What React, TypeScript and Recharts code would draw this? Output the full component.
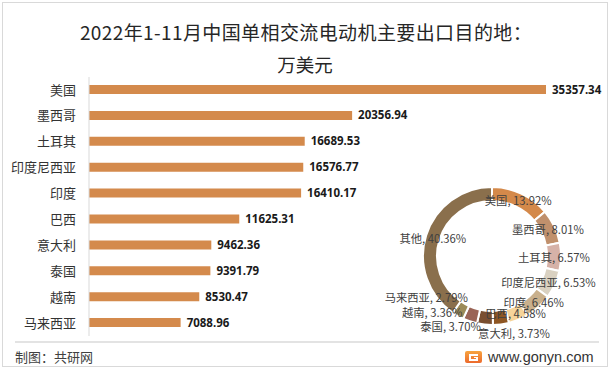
import React from 'react';
import { BarChart, Bar, XAxis, YAxis, LabelList, PieChart, Pie, Cell } from 'recharts';

// ---- data ----
const countries = ['美国', '墨西哥', '土耳其', '印度尼西亚', '印度', '巴西', '意大利', '泰国', '越南', '马来西亚'];
const exportValues = [35357.34, 20356.94, 16689.53, 16576.77, 16410.17, 11625.31, 9462.36, 9391.79, 8530.47, 7088.96];
const shareNames = ['美国', '墨西哥', '土耳其', '印度尼西亚', '印度', '巴西', '意大利', '泰国', '越南', '马来西亚', '其他'];
const sharePercents = [13.92, 8.01, 6.57, 6.53, 6.46, 4.58, 3.73, 3.7, 3.36, 2.79, 40.36];

// ---- styles ----
const BAR_COLOR = '#D48A4C';
const sliceColors = ['#D4894A', '#C0906C', '#D6B2A8', '#D9D1C1', '#C9B08C', '#F6D49A', '#8E5623', '#7A4F31', '#9A6456', '#9C8B58', '#8A6F4C'];
// label nudges (px) where the original moved crowded labels
const labelNudge: Record<string, [number, number]> = {
  意大利: [14, 16],
  泰国: [-35, 8],
  越南: [-40, -3],
  马来西亚: [-35, -13],
};
const CJK = '"Noto Sans CJK SC", "Noto Sans", sans-serif';

const barData = countries.map((c, i) => ({ name: c, value: exportValues[i] }));
const pieData = shareNames.map((n, i) => ({ name: n, value: sharePercents[i] }));

const RAD = Math.PI / 180;
const renderPieLabel = (props: any) => {
  const { cx, cy, midAngle, innerRadius, outerRadius, name, value } = props;
  const r = (Number(innerRadius) + Number(outerRadius)) / 2;
  let x = Number(cx) + r * Math.cos(-midAngle * RAD);
  let y = Number(cy) + r * Math.sin(-midAngle * RAD);
  const n = labelNudge[name];
  if (n) {
    x += n[0];
    y += n[1];
  }
  return (
    <text x={x} y={y} textAnchor="middle" dominantBaseline="central" fill="#404040" fontSize={11.3} fontFamily={CJK}>
      {`${name}, ${Number(value).toFixed(2)}%`}
    </text>
  );
};

const Logo = () => (
  <svg width={17} height={12} viewBox="0 0 17 12" style={{ position: 'absolute', left: 465, top: 351 }}>
    <defs>
      <linearGradient id="lg" x1="0" y1="0" x2="0" y2="1">
        <stop offset="0%" stopColor="#F7A440" />
        <stop offset="100%" stopColor="#EC6A2C" />
      </linearGradient>
    </defs>
    <rect x={0} y={0} width={17} height={12} rx={2} fill="url(#lg)" />
    <path d="M4 3 H13 V5 H6 V8 H11 V7 H9 V6 H13 V10 H4 Z" fill="#fff" />
  </svg>
);

export default function App() {
  return (
    <div
      style={{
        position: 'absolute',
        left: 0,
        top: 0,
        width: 614,
        height: 372,
        background: '#fff',
        fontFamily: CJK,
        overflow: 'hidden',
      }}
    >
      <div
        style={{
          position: 'absolute',
          left: 2,
          top: 2,
          width: 604,
          height: 363,
          border: '1px solid #D9D9D9',
        }}
      />
      <div
        style={{
          position: 'absolute',
          left: 0,
          top: 20,
          width: 612,
          textAlign: 'center',
          fontSize: 19,
          letterSpacing: 0.4,
          lineHeight: '24px',
          color: '#262626',
          whiteSpace: 'nowrap',
        }}
      >
        2022年1-11月中国单相交流电动机主要出口目的地：
      </div>
      <div
        style={{
          position: 'absolute',
          left: 0,
          top: 52,
          width: 610,
          textAlign: 'center',
          fontSize: 18.5,
          lineHeight: '24px',
          color: '#262626',
        }}
      >
        万美元
      </div>

      <div style={{ position: 'absolute', left: 0, top: 0 }}>
        <BarChart
          width={614}
          height={372}
          data={barData}
          layout="vertical"
          margin={{ top: 77, bottom: 36, left: 9, right: 68 }}
          barCategoryGap={0}
        >
          <XAxis type="number" hide domain={[0, 35357.34]} />
          <YAxis
            type="category"
            dataKey="name"
            width={80}
            tickLine={false}
            tickSize={0}
            tickMargin={13}
            axisLine={{ stroke: '#D9D9D9', strokeWidth: 1 }}
            tick={{ fill: '#333', fontSize: 13, fontFamily: CJK }}
            interval={0}
          />
          <Bar dataKey="value" fill={BAR_COLOR} barSize={9} isAnimationActive={false}>
            <LabelList
              dataKey="value"
              position="right"
              offset={6}
              fill="#1a1a1a"
              fontSize={11.5}
              fontWeight="bold"
              fontFamily='"Noto Sans", sans-serif'
              formatter={(v: any) => Number(v).toFixed(2)}
            />
          </Bar>
        </BarChart>
      </div>

      <div style={{ position: 'absolute', left: 367, top: 141 }}>
        <PieChart width={240} height={220} style={{ overflow: 'visible' }}>
          <Pie
            data={pieData}
            dataKey="value"
            nameKey="name"
            cx={120}
            cy={110}
            innerRadius={55}
            outerRadius={69}
            startAngle={90}
            endAngle={-270}
            stroke="#fff"
            strokeWidth={2}
            label={renderPieLabel}
            labelLine={false}
            isAnimationActive={false}
          >
            {pieData.map((d, i) => (
              <Cell key={d.name} fill={sliceColors[i]} />
            ))}
          </Pie>
        </PieChart>
      </div>

      <div
        style={{
          position: 'absolute',
          left: 15,
          top: 341,
          width: 584,
          height: 0,
          borderTop: '2px solid #E3E3E3',
        }}
      />
      <div
        style={{
          position: 'absolute',
          left: 15,
          top: 348,
          fontSize: 13,
          lineHeight: '18px',
          color: '#404040',
          whiteSpace: 'nowrap',
        }}
      >
        制图：共研网
      </div>
      <Logo />
      <div
        style={{
          position: 'absolute',
          left: 488,
          top: 348,
          fontSize: 14.5,
          lineHeight: '18px',
          color: '#333',
          fontFamily: '"Liberation Sans", Arial, sans-serif',
          whiteSpace: 'nowrap',
        }}
      >
        www.gonyn.com
      </div>
    </div>
  );
}
